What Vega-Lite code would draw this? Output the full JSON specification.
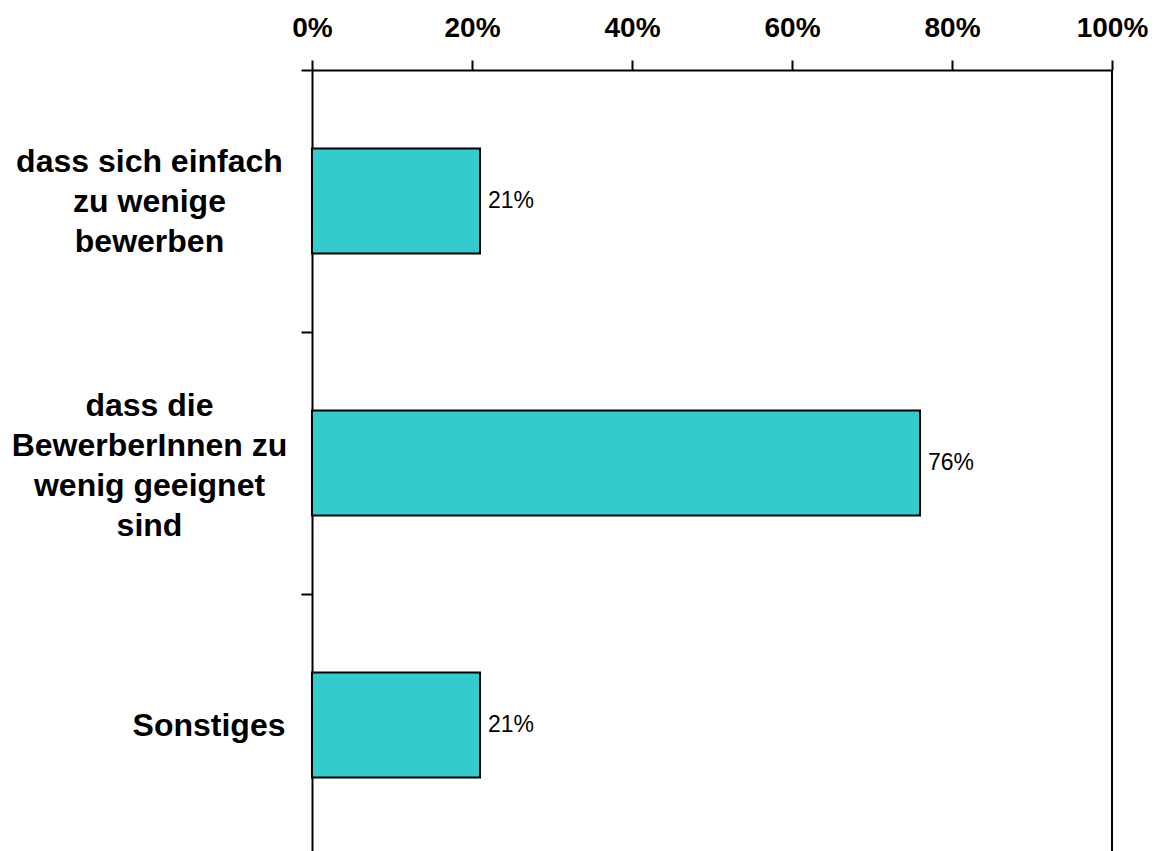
{
  "$schema": "https://vega.github.io/schema/vega-lite/v6.json",
  "autosize": "none",
  "width": 800,
  "height": 786,
  "padding": {"left": 312, "top": 70, "right": 48, "bottom": 0},
  "background": "white",
  "config": {"view": {"stroke": null}},
  "data": {
    "values": [
      {"cat": "dass sich einfach|zu wenige|bewerben", "v": 0.21},
      {"cat": "dass die|BewerberInnen zu|wenig geeignet|sind", "v": 0.76},
      {"cat": "Sonstiges", "v": 0.21}
    ]
  },
  "layer": [
    {
      "mark": {"type": "bar", "fill": "#33CCCC", "stroke": "black", "strokeWidth": 2},
      "encoding": {
        "y": {
          "field": "cat",
          "type": "nominal",
          "sort": null,
          "scale": {"paddingInner": 0.6, "paddingOuter": 0.3},
          "axis": {
            "title": null,
            "tickOffset": -131,
            "labelOffset": {
              "condition": [
                {"test": "datum.value === 'Sonstiges'", "value": 131},
                {"test": "indexof(datum.value, 'BewerberInnen') >= 0", "value": 73}
              ],
              "value": 91
            },
            "labelExpr": "split(datum.label, '|')",
            "labelFont": "Liberation Sans",
            "labelFontSize": 32,
            "labelFontWeight": "bold",
            "labelColor": "black",
            "labelLineHeight": 40,
            "labelAlign": {"condition": {"test": "datum.value === 'Sonstiges'", "value": "right"}, "value": "center"},
            "labelBaseline": "middle",
            "labelLimit": 0,
            "labelPadding": {"condition": {"test": "datum.value === 'Sonstiges'", "value": 16}, "value": 152},
            "tickSize": 11,
            "tickWidth": 2,
            "tickColor": "black",
            "domainColor": "black",
            "domainWidth": 2
          }
        },
        "x": {
          "field": "v",
          "type": "quantitative",
          "scale": {"domain": [0, 1], "nice": false},
          "axis": {
            "orient": "top",
            "title": null,
            "values": [0, 0.2, 0.4, 0.6, 0.8, 1],
            "format": ".0%",
            "grid": false,
            "labelFont": "Liberation Sans",
            "labelFontSize": 28,
            "labelFontWeight": "bold",
            "labelColor": "black",
            "labelBaseline": "alphabetic",
            "labelPadding": 24,
            "labelFlush": false,
            "labelOverlap": false,
            "tickSize": 10,
            "tickWidth": 2,
            "tickColor": "black",
            "domainColor": "black",
            "domainWidth": 2
          }
        }
      }
    },
    {
      "mark": {"type": "rule", "color": "black", "strokeWidth": 2},
      "encoding": {"x": {"datum": 1, "type": "quantitative"}}
    },
    {
      "mark": {"type": "text", "align": "left", "baseline": "middle", "dx": 8, "font": "Liberation Sans", "fontSize": 23, "color": "black"},
      "encoding": {
        "y": {"field": "cat", "type": "nominal", "sort": null},
        "x": {"field": "v", "type": "quantitative"},
        "text": {"field": "v", "type": "quantitative", "format": ".0%"}
      }
    }
  ]
}
